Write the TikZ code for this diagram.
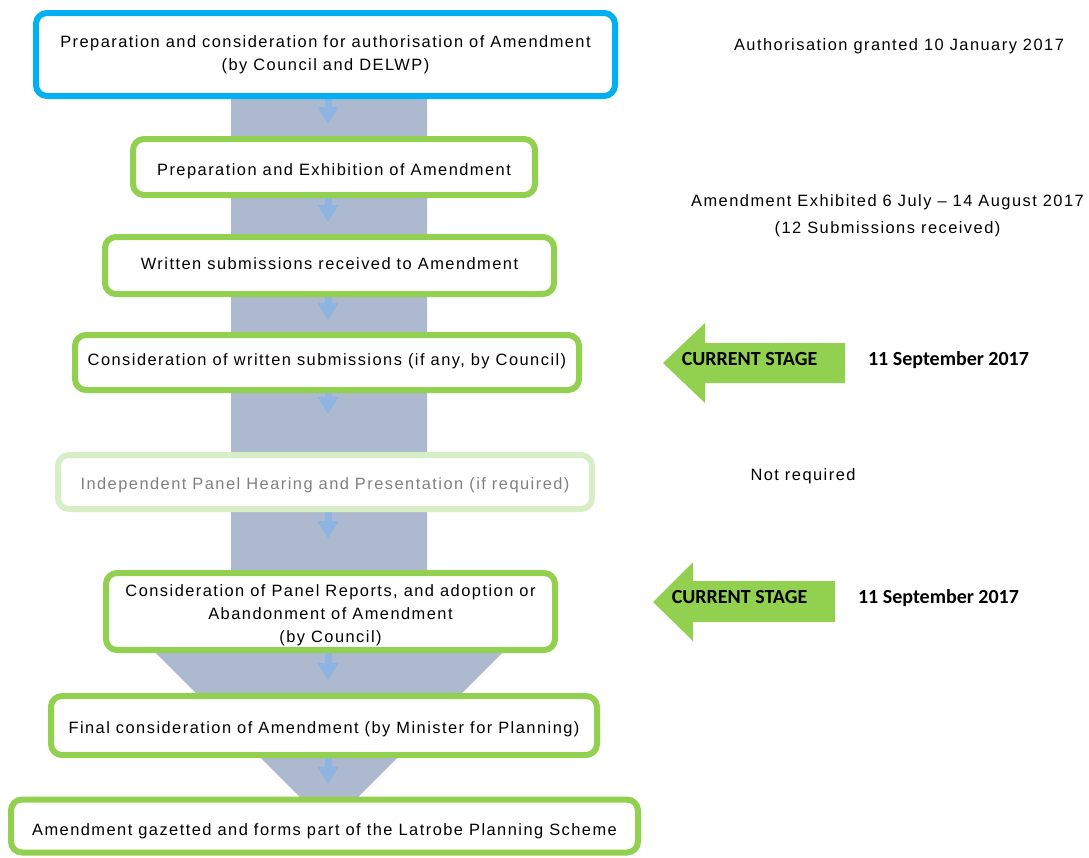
\documentclass[tikz,border=0pt]{standalone}
\usepackage{fontspec}
\setmainfont{Liberation Sans}[LetterSpace=9]
\newfontfamily\calb{Carlito}[BoldFont=* Bold]
\usetikzlibrary{arrows.meta,calc}
\pgfdeclarelayer{bg}
\pgfsetlayers{bg,main}
\definecolor{cblue}{HTML}{00B0F0}
\definecolor{cgreen}{HTML}{92D050}
\definecolor{cfade}{HTML}{D8EEC6}
\definecolor{cshaft}{HTML}{ADB9CF}
\definecolor{carrow}{HTML}{8DB4E2}
\definecolor{cgraytext}{HTML}{808080}
\begin{document}
\begin{tikzpicture}[x=1pt,y=-1pt,
  stagebox/.style={draw=cgreen, line width=6pt, rounded corners=11pt, fill=white,
    align=center, font=\fontsize{16.4}{23}\selectfont, inner sep=0pt},
  lowtext/.style={text depth=3.5pt, text height=#1},
  smallarr/.style={draw=carrow, line width=7pt, -{Triangle[width=20pt,length=17pt]}},
  stagearrow/.style={fill=cgreen, draw=none},
  stagetext/.style={font=\calb\bfseries\fontsize{20}{24}\selectfont, anchor=base, inner sep=0pt},
  note/.style={font=\fontsize{16.4}{23}\selectfont, anchor=base, inner sep=0pt}]
\useasboundingbox (0,0) rectangle (1089,857);

% boxes
\node[stagebox, draw=cblue, minimum width=579pt, minimum height=83pt] (b1) at (325.5,54.5)
  {Preparation and consideration  for authorisation of Amendment\\(by Council and DELWP)};
\node[stagebox, lowtext=19.5pt, minimum width=402pt, minimum height=56pt] (b2) at (334,167)
  {Preparation and Exhibition of Amendment};
\node[stagebox, lowtext=11.5pt, minimum width=449pt, minimum height=57pt] (b3) at (329.5,265.5)
  {Written submissions received to Amendment};
\node[stagebox, lowtext=8.5pt, minimum width=504pt, minimum height=55pt] (b4) at (327,362.5)
  {Consideration of written submissions (if any, by Council)};
\node[stagebox, lowtext=17.5pt, draw=cfade, text=cgraytext, minimum width=534pt, minimum height=54pt] (b5) at (325,482)
  {Independent Panel Hearing and Presentation (if required)};
\node[stagebox, minimum width=449pt, minimum height=77pt] (b6) at (330.5,611.5)
  {\rule{0pt}{18.4pt}Consideration of Panel Reports, and adoption or\\Abandonment of Amendment\\(by Council)};
\node[stagebox, lowtext=19.5pt, minimum width=546pt, minimum height=59pt] (b7) at (324,725.5)
  {Final consideration of Amendment (by Minister for Planning)};
\node[stagebox, lowtext=21.5pt, minimum width=627pt, minimum height=53pt] (b8) at (324.5,826)
  {Amendment gazetted and forms part of the Latrobe Planning Scheme};

\coordinate (ax) at (328,0);

\begin{pgfonlayer}{bg}
  \fill[white] (0,0) rectangle (1089,857);
  % big background arrow
  \fill[cshaft] (231,95) -- (427,95) -- (427,650) -- (505,650) -- (329,826)
    -- (153,650) -- (231,650) -- cycle;
  % small arrows
  \draw[smallarr, shorten >=12pt] (b1.south -| ax) -- (b2.north -| ax);
  \draw[smallarr, shorten >=12pt] (b2.south -| ax) -- (b3.north -| ax);
  \draw[smallarr, shorten >=12pt] (b3.south -| ax) -- (b4.north -| ax);
  \draw[smallarr, shorten >=38pt] (b4.south -| ax) -- (b5.north -| ax);
  \draw[smallarr, shorten >=32pt] (b5.south -| ax) -- (b6.north -| ax);
  \draw[smallarr, shorten >=13pt] (b6.south -| ax) -- (b7.north -| ax);
  \draw[smallarr, shorten >=13pt] (b7.south -| ax) -- (b8.north -| ax);
\end{pgfonlayer}

% right-hand notes
\node[note] (n1) at (899,50.7) {Authorisation granted 10 January 2017};
\node[note] (n2) at (887.5,206) {Amendment Exhibited 6 July – 14 August 2017};
\node[note] (n3) at (887.5,233) {(12 Submissions received)};
\node[note] (n4) at (803,480) {Not required};

% current stage arrows
\fill[stagearrow] (663,363) -- (705,323) -- (705,343) -- (845,343) -- (845,383)
  -- (705,383) -- (705,403) -- cycle;
\node[stagetext] (cs1) at (749.5,365) {CURRENT STAGE};
\node[stagetext] (d1) at (948.5,365) {11 September 2017};

\fill[stagearrow] (653,602) -- (693,562) -- (693,581) -- (835,581) -- (835,622)
  -- (693,622) -- (693,641) -- cycle;
\node[stagetext] (cs2) at (739.5,603) {CURRENT STAGE};
\node[stagetext] (d2) at (938.5,603) {11 September 2017};
\end{tikzpicture}
\end{document}
